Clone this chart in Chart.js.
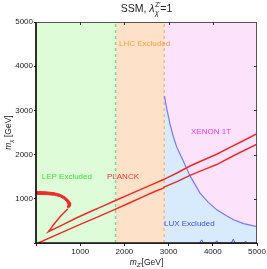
<!DOCTYPE html>
<html>
<head>
<meta charset="utf-8">
<script src="https://cdn.jsdelivr.net/npm/chart.js@4.4.1/dist/chart.umd.min.js"></script>
<style>
  html, body { margin: 0; padding: 0; background: #fff; }
</style>
</head>
<body>
<canvas id="myChart" width="267" height="269"></canvas>
<script>
/* globals Chart:false */

// axis limits and ticks (GeV)
const axisMax = 5000
const tickValues = [0, 1000, 2000, 3000, 4000, 5000]

// excluded regions along m_Z'
const lepLimit = 1800
const lhcLimit = 2900

// XENON 1T / LUX boundary
const xenonMZ = [2905, 2950, 3030, 3100, 3180, 3330, 3480, 3600, 3710, 3900, 4090, 4300, 4470, 4700, 5000]
const xenonMChi = [3330, 3080, 2700, 2430, 2180, 1860, 1530, 1320, 1130, 920, 750, 620, 525, 440, 370]

// LUX noise near the bottom
const luxNoiseMZ = [3700, 3750, 3790, 4050, 4090, 4120, 4420, 4465, 4500, 4700, 4740, 4780]
const luxNoiseMChi = [0, 70, 0, 0, 50, 0, 0, 90, 0, 0, 40, 0]

// PLANCK relic density, upper branch (tail from the blob down to the tip, then up)
const planckUpperMZ = [720, 650, 543, 470, 392, 330, 280, 600, 900, 1222, 1500, 1787, 2100, 2400, 2700, 2896, 3200, 3484, 3750, 4088, 4400, 4700, 5000]
const planckUpperMChi = [770, 700, 594, 505, 406, 320, 255, 410, 560, 708, 830, 957, 1095, 1225, 1355, 1441, 1590, 1742, 1860, 2009, 2170, 2320, 2476]

// PLANCK relic density, lower branch
const planckLowerMZ = [50, 500, 1000, 1400, 1787, 2100, 2428, 2700, 2880, 2900, 3200, 3484, 3800, 4088, 4500, 5000]
const planckLowerMChi = [0, 200, 420, 590, 762, 900, 1048, 1170, 1240, 1265, 1395, 1530, 1660, 1775, 1990, 2235]

// PLANCK thick blob at low m_Z' (outline, closed)
const blobMZ = [0, 200, 400, 550, 660, 740, 785, 780, 740, 710, 725, 700, 640, 550, 420, 250, 0]
const blobMChi = [1165, 1160, 1140, 1100, 1040, 970, 900, 840, 790, 810, 870, 930, 990, 1045, 1078, 1095, 1100]

const zip = (xs, ys) => xs.map((x, i) => ({ x: x, y: ys[i] }))

const regionLabels = [
  { text: 'LEP Excluded', x: 129, y: 1500, color: '#3be63b' },
  { text: 'PLANCK', x: 1606, y: 1500, color: '#f03434' },
  { text: 'LHC Excluded', x: 1878, y: 4518, color: '#ff9d45' },
  { text: 'XENON 1T', x: 3507, y: 2511, color: '#ee3cee' },
  { text: 'LUX Excluded', x: 2896, y: 437, color: '#3c50f0' }
]

const FONT = "'Liberation Sans', Arial, sans-serif"

function drawPieces(ctx, pieces, x, y) {
  pieces.forEach(p => {
    ctx.font = p.font
    ctx.fillText(p.text, x + (p.dx || 0), y + (p.dy || 0))
    if (p.advance !== false) x += ctx.measureText(p.text).width + (p.dx || 0)
  })
}

function piecesWidth(ctx, pieces) {
  let w = 0
  pieces.forEach(p => {
    ctx.font = p.font
    if (p.advance !== false) w += ctx.measureText(p.text).width + (p.dx || 0)
  })
  return w
}

const decorPlugin = {
  id: 'decor',
  afterDatasetsDraw(chart) {
    const ctx = chart.ctx
    const xs = chart.scales.x
    const ys = chart.scales.y
    const a = chart.chartArea
    ctx.save()
    // region labels
    ctx.font = '8px ' + FONT
    ctx.textBaseline = 'middle'
    ctx.textAlign = 'left'
    regionLabels.forEach(l => {
      ctx.fillStyle = l.color
      ctx.fillText(l.text, xs.getPixelForValue(l.x), ys.getPixelForValue(l.y))
    })
    // frame
    ctx.strokeStyle = '#555'
    ctx.lineWidth = 1
    ctx.strokeRect(a.left, a.top + 0.5, a.right - a.left - 0.5, a.bottom - a.top)
    ctx.strokeStyle = '#111'
    ctx.lineWidth = 1.6
    ctx.beginPath()
    ctx.moveTo(a.left, a.top)
    ctx.lineTo(a.left, a.bottom)
    ctx.lineTo(a.right, a.bottom)
    ctx.stroke()
    // inner ticks on top and right
    ctx.lineWidth = 1
    ctx.strokeStyle = '#333'
    tickValues.slice(1, -1).forEach(v => {
      const px = Math.round(xs.getPixelForValue(v)) + 0.5
      const py = Math.round(ys.getPixelForValue(v)) + 0.5
      ctx.beginPath()
      ctx.moveTo(px, a.top)
      ctx.lineTo(px, a.top + 3)
      ctx.moveTo(a.right, py)
      ctx.lineTo(a.right - 3, py)
      ctx.stroke()
    })
    ctx.restore()
  },
  afterDraw(chart) {
    const ctx = chart.ctx
    const a = chart.chartArea
    const cx = (a.left + a.right) / 2
    ctx.save()
    ctx.fillStyle = '#222'
    ctx.textBaseline = 'alphabetic'
    ctx.textAlign = 'left'

    // title: SSM, λ_χ^Z' =1
    const tSub = [
      { text: 'SSM, ', font: '10.5px ' + FONT },
      { text: 'λ', font: 'italic 10.5px ' + FONT },
      { text: 'Z′', font: '7px ' + FONT, dy: -5, dx: 0.5, advance: false },
      { text: 'χ', font: 'italic 7px ' + FONT, dy: 3, dx: 0.5 },
      { text: '=1', font: '10.5px ' + FONT, dx: 1.5 }
    ]
    drawPieces(ctx, tSub, cx - piecesWidth(ctx, tSub) / 2, 12)

    // x axis title
    const xt = [
      { text: 'm', font: 'italic 8.5px ' + FONT },
      { text: 'Z′', font: 'italic 6px ' + FONT, dy: 2 },
      { text: '[GeV]', font: '8.5px ' + FONT }
    ]
    drawPieces(ctx, xt, cx - piecesWidth(ctx, xt) / 2, 265)

    // y axis title
    const yt = [
      { text: 'm', font: 'italic 8.5px ' + FONT },
      { text: 'χ', font: 'italic 6px ' + FONT, dy: 2 },
      { text: ' [GeV]', font: '8.5px ' + FONT }
    ]
    ctx.translate(11, (a.top + a.bottom) / 2)
    ctx.rotate(-Math.PI / 2)
    drawPieces(ctx, yt, -piecesWidth(ctx, yt) / 2, 0)
    ctx.restore()
  }
}

const area = (pts, color, order) => ({
  data: pts,
  showLine: true,
  borderWidth: 0,
  pointRadius: 0,
  fill: 'origin',
  backgroundColor: color,
  order: order
})

const line = (pts, color, width, order, extra) => Object.assign({
  data: pts,
  showLine: true,
  borderColor: color,
  borderWidth: width,
  pointRadius: 0,
  fill: false,
  tension: 0,
  order: order
}, extra || {})

new Chart(document.getElementById('myChart'), {
  type: 'scatter',
  data: {
    datasets: [
      area([{ x: 0, y: axisMax }, { x: lepLimit, y: axisMax }], '#dffcd9', 100),
      area([{ x: lepLimit, y: axisMax }, { x: lhcLimit, y: axisMax }], '#fde2c9', 99),
      area([{ x: lhcLimit, y: axisMax }, { x: axisMax, y: axisMax }], '#fde2fb', 98),
      Object.assign(area(zip([lhcLimit].concat(xenonMZ), [xenonMChi[0]].concat(xenonMChi)), '#d8ebfc', 97)),
      line([{ x: lepLimit, y: 0 }, { x: lepLimit, y: axisMax }], '#79e279', 1.5, 90, { borderDash: [3, 3] }),
      line([{ x: lhcLimit, y: 0 }, { x: lhcLimit, y: axisMax }], '#fdae62', 1.2, 89, { borderDash: [3, 3] }),
      line(zip(luxNoiseMZ, luxNoiseMChi), '#5a5ae6', 1, 80),
      line(zip(xenonMZ, xenonMChi), '#7878f0', 1.2, 70),
      line(zip(planckLowerMZ, planckLowerMChi), '#f02a2a', 1.5, 10),
      line(zip(planckUpperMZ, planckUpperMChi), '#f02a2a', 1.5, 9),
      line(zip(blobMZ, blobMChi), '#f02a2a', 1, 8, { fill: 'shape', backgroundColor: '#f02a2a' })
    ]
  },
  options: {
    responsive: false,
    animation: false,
    events: [],
    layout: { padding: { left: 0, top: 22, right: 10, bottom: 0 } },
    plugins: {
      legend: { display: false },
      tooltip: { enabled: false },
      title: { display: false }
    },
    scales: {
      x: {
        type: 'linear',
        min: 0,
        max: axisMax,
        afterBuildTicks: s => { s.ticks = tickValues.map(v => ({ value: v })) },
        afterFit: s => { s.height = 26 },
        border: { display: false },
        grid: { drawOnChartArea: false, drawTicks: true, tickLength: 3, color: '#222' },
        ticks: {
          padding: 1,
          maxRotation: 0,
          color: '#222',
          font: { family: FONT, size: 8 },
          callback: v => v === 0 ? '' : String(v)
        }
      },
      y: {
        type: 'linear',
        min: 0,
        max: axisMax,
        afterBuildTicks: s => { s.ticks = tickValues.map(v => ({ value: v })) },
        afterFit: s => { s.width = 36 },
        border: { display: false },
        grid: { drawOnChartArea: false, drawTicks: true, tickLength: 2, color: '#222' },
        ticks: {
          padding: 1,
          color: '#222',
          font: { family: FONT, size: 8 },
          callback: v => v === 0 ? '' : String(v)
        }
      }
    }
  },
  plugins: [decorPlugin]
})
</script>
</body>
</html>
